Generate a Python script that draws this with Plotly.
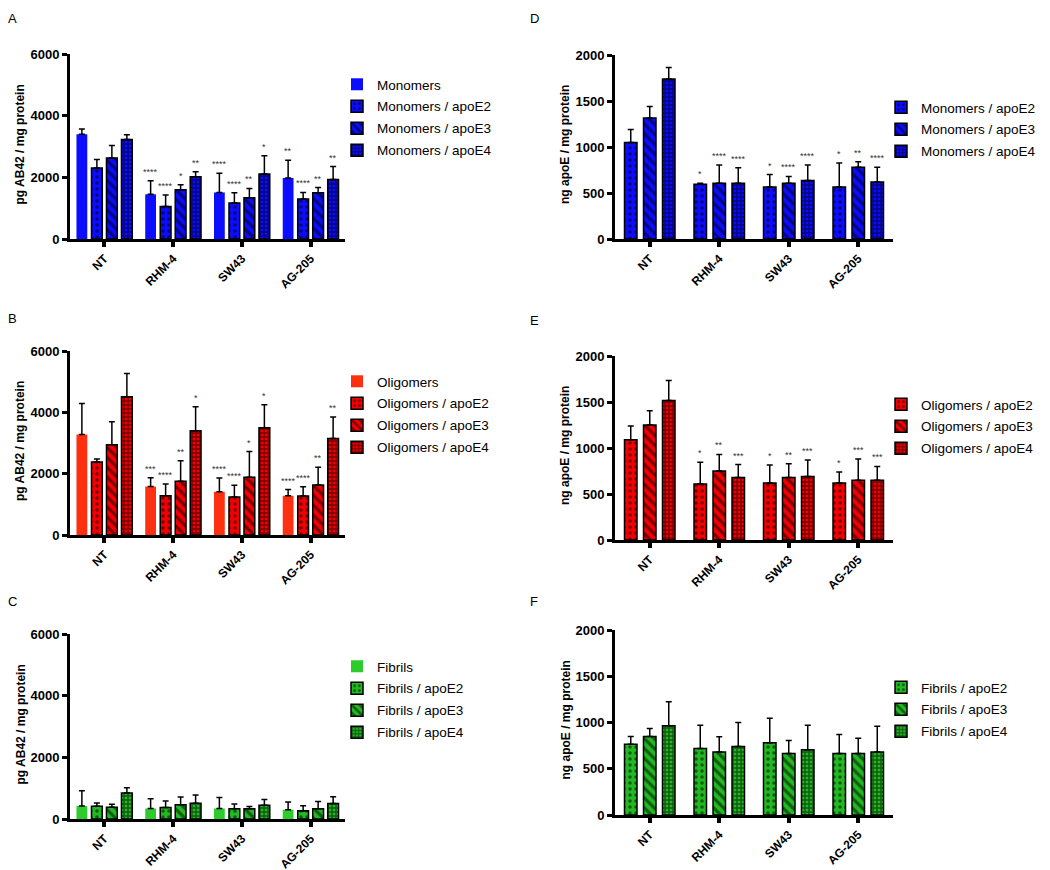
import plotly.graph_objects as go

categories = ["NT", "RHM-4", "SW43", "AG-205"]

# ---- Panel A: pg AB42 / mg protein (monomers) ----
a_names = ["Monomers", "Monomers / apoE2", "Monomers / apoE3", "Monomers / apoE4"]
a_mean = [[3400, 1450, 1510, 1980],
          [2300, 1050, 1170, 1300],
          [2630, 1600, 1340, 1500],
          [3230, 2020, 2110, 1930]]
a_err = [[170, 440, 620, 570],
         [280, 380, 330, 210],
         [400, 160, 300, 170],
         [150, 160, 590, 420]]
a_sig = [["", "****", "****", "**"],
         ["", "****", "****", "****"],
         ["", "*", "**", "**"],
         ["", "**", "*", "**"]]

# ---- Panel B: pg AB42 / mg protein (oligomers) ----
b_names = ["Oligomers", "Oligomers / apoE2", "Oligomers / apoE3", "Oligomers / apoE4"]
b_mean = [[3280, 1580, 1410, 1280],
          [2380, 1280, 1240, 1270],
          [2940, 1750, 1880, 1630],
          [4510, 3400, 3500, 3150]]
b_err = [[1010, 290, 450, 200],
         [100, 380, 380, 300],
         [750, 670, 840, 580],
         [760, 780, 750, 700]]
b_sig = [["", "***", "****", "****"],
         ["", "****", "****", "****"],
         ["", "**", "*", "**"],
         ["", "*", "*", "**"]]

# ---- Panel C: pg AB42 / mg protein (fibrils) ----
c_names = ["Fibrils", "Fibrils / apoE2", "Fibrils / apoE3", "Fibrils / apoE4"]
c_mean = [[420, 340, 340, 300],
          [410, 370, 335, 270],
          [380, 460, 335, 330],
          [840, 510, 450, 500]]
c_err = [[500, 320, 360, 250],
         [110, 210, 150, 160],
         [100, 250, 70, 240],
         [170, 270, 180, 220]]
c_sig = [["", "", "", ""], ["", "", "", ""], ["", "", "", ""], ["", "", "", ""]]

# ---- Panel D: ng apoE / mg protein (monomers) ----
d_names = ["Monomers / apoE2", "Monomers / apoE3", "Monomers / apoE4"]
d_mean = [[1050, 595, 565, 565],
          [1315, 605, 605, 780],
          [1740, 605, 635, 620]]
d_err = [[140, 10, 135, 260],
         [125, 200, 75, 60],
         [125, 170, 170, 160]]
d_sig = [["", "*", "*", "*"],
         ["", "****", "****", "**"],
         ["", "****", "****", "****"]]

# ---- Panel E: ng apoE / mg protein (oligomers) ----
e_names = ["Oligomers / apoE2", "Oligomers / apoE3", "Oligomers / apoE4"]
e_mean = [[1090, 610, 620, 620],
          [1250, 750, 680, 650],
          [1515, 680, 690, 650]]
e_err = [[150, 235, 195, 120],
         [155, 180, 150, 230],
         [220, 140, 180, 150]]
e_sig = [["", "*", "*", "*"],
         ["", "**", "**", "***"],
         ["", "***", "***", "***"]]

# ---- Panel F: ng apoE / mg protein (fibrils) ----
f_names = ["Fibrils / apoE2", "Fibrils / apoE3", "Fibrils / apoE4"]
f_mean = [[765, 720, 780, 665],
          [850, 680, 665, 665],
          [965, 740, 705, 680]]
f_err = [[85, 250, 265, 205],
         [85, 165, 140, 165],
         [260, 260, 265, 280]]
f_sig = [["", "", "", ""], ["", "", "", ""], ["", "", "", ""]]

ab_ticks = [0, 2000, 4000, 6000]
apoe_ticks = [0, 500, 1000, 1500, 2000]
ab_title = "pg AB42 / mg protein"
apoe_title = "ng apoE / mg protein"

W, H = 1050, 870
FONT = "Arial, Liberation Sans, sans-serif"

BLUE = "#0c0cff"
RED_PLAIN = "#ff3010"
RED = "#f50000"
GREEN_PLAIN = "#2ccc2c"
GREEN = "#22b922"

panels = [
    dict(letter="A", names=a_names, mean=a_mean, err=a_err, sig=a_sig, kinds=["plain", "e2", "e3", "e4"],
         plain=BLUE, col=BLUE, px=(70, 345), py=(54, 239), ticks=ab_ticks, title=ab_title,
         leg=(337, 69), letpos=(12, 18)),
    dict(letter="B", names=b_names, mean=b_mean, err=b_err, sig=b_sig, kinds=["plain", "e2", "e3", "e4"],
         plain=RED_PLAIN, col=RED, px=(70, 345), py=(351, 535), ticks=ab_ticks, title=ab_title,
         leg=(337, 366), letpos=(12, 318)),
    dict(letter="C", names=c_names, mean=c_mean, err=c_err, sig=c_sig, kinds=["plain", "e2", "e3", "e4"],
         plain=GREEN_PLAIN, col=GREEN, px=(70, 345), py=(634, 819), ticks=ab_ticks, title=ab_title,
         leg=(337, 651), letpos=(12, 601)),
    dict(letter="D", names=d_names, mean=d_mean, err=d_err, sig=d_sig, kinds=["e2", "e3", "e4"],
         plain=BLUE, col=BLUE, px=(615, 893), py=(55, 239), ticks=apoe_ticks, title=apoe_title,
         leg=(881, 92), letpos=(534, 18)),
    dict(letter="E", names=e_names, mean=e_mean, err=e_err, sig=e_sig, kinds=["e2", "e3", "e4"],
         plain=RED_PLAIN, col=RED, px=(615, 893), py=(356, 540), ticks=apoe_ticks, title=apoe_title,
         leg=(881, 389), letpos=(534, 320)),
    dict(letter="F", names=f_names, mean=f_mean, err=f_err, sig=f_sig, kinds=["e2", "e3", "e4"],
         plain=GREEN_PLAIN, col=GREEN, px=(615, 893), py=(630, 815), ticks=apoe_ticks, title=apoe_title,
         leg=(881, 672), letpos=(534, 601)),
]


def marker_for(kind, plain, col):
    if kind == "plain":
        return dict(color=plain, line=dict(color=plain, width=0))
    if kind == "e2":
        pat = dict(shape=".", fgcolor="#000000", bgcolor=col, size=6, solidity=0.28, fillmode="overlay")
    elif kind == "e3":
        pat = dict(shape="\\", fgcolor="#000000", bgcolor=col, size=7, solidity=0.45, fillmode="overlay")
    else:
        pat = dict(shape="+", fgcolor="#000000", bgcolor=col, size=4, solidity=0.6, fillmode="overlay")
    return dict(color=col, pattern=pat, line=dict(color="#000000", width=1.5))


fig = go.Figure()
layout = dict(width=W, height=H, margin=dict(l=0, r=0, t=0, b=0, pad=0, autoexpand=False),
              paper_bgcolor="white", plot_bgcolor="white", barmode="overlay", showlegend=True,
              font=dict(family=FONT, color="#000"))
annotations = []

for k, p in enumerate(panels):
    idx = k + 1
    xa = "x" if idx == 1 else f"x{idx}"
    ya = "y" if idx == 1 else f"y{idx}"
    lg = "legend" if idx == 1 else f"legend{idx}"
    n = len(p["names"])
    cat_px = (p["px"][1] - p["px"][0]) / 4.0
    slot = (15.0 if n == 4 else 19.0) / cat_px
    bw = (10.8 if n == 4 else 12.5) / cat_px
    for j in range(n):
        center = (j - (n - 1) / 2.0) * slot
        fig.add_trace(go.Bar(
            x=categories, y=p["mean"][j], name=p["names"][j],
            xaxis=xa, yaxis=ya, legend=lg, legendgroup=f"{p['letter']}{j}",
            width=bw, offset=center - bw / 2.0,
            marker=marker_for(p["kinds"][j], p["plain"], p["col"]),
            error_y=dict(type="data", array=p["err"][j], arrayminus=[0] * 4, symmetric=False,
                         color="#000", thickness=1.5, width=3),
            hoverinfo="skip",
        ))
        for i, s in enumerate(p["sig"][j]):
            if s:
                annotations.append(dict(
                    x=i + center, y=p["mean"][j][i] + p["err"][j][i], xref=xa, yref=ya,
                    text=s, showarrow=False, yanchor="bottom", yshift=2,
                    font=dict(size=9, color="#333", family=FONT)))
    x0, x1 = p["px"]
    y0, y1 = p["py"]
    layout["xaxis" if idx == 1 else f"xaxis{idx}"] = dict(
        domain=[x0 / W, x1 / W], anchor=ya, type="category", range=[-0.5, 3.5], automargin=False,
        showline=True, linecolor="#000", linewidth=3, ticks="outside", ticklen=5, tickwidth=3.5,
        tickcolor="#000", tickangle=-45, showgrid=False, zeroline=False,
        tickfont=dict(size=12, family=FONT, weight="bold", color="#000"))
    layout["yaxis" if idx == 1 else f"yaxis{idx}"] = dict(
        domain=[1 - y1 / H, 1 - y0 / H], anchor=xa, range=[0, p["ticks"][-1]], automargin=False,
        tickvals=p["ticks"], showline=True, linecolor="#000", linewidth=3, ticks="outside",
        ticklen=5, tickwidth=2.5, tickcolor="#000", showgrid=False, zeroline=False,
        tickfont=dict(size=13, family=FONT, weight="bold", color="#000"))
    layout[lg] = dict(x=p["leg"][0] / W, y=1 - p["leg"][1] / H, xanchor="left", yanchor="top",
                      bgcolor="rgba(0,0,0,0)", font=dict(size=13.5, family=FONT, color="#000"),
                      tracegroupgap=1.4, traceorder="grouped")
    annotations.append(dict(x=p["letpos"][0] / W, y=1 - p["letpos"][1] / H, xref="paper", yref="paper",
                            text=p["letter"], showarrow=False, xanchor="center", yanchor="middle",
                            font=dict(size=13, family=FONT, color="#000")))
    title_x = (x0 - 50) / W
    annotations.append(dict(x=title_x, y=1 - ((y0 + y1) / 2 - 2) / H, xref="paper", yref="paper",
                            text=p["title"], showarrow=False, textangle=-90, xanchor="center",
                            yanchor="middle",
                            font=dict(size=12, family=FONT, weight="bold", color="#000")))

layout["annotations"] = annotations
fig.update_layout(**layout)
fig.write_html("out.html", config={"displayModeBar": False},
               post_script="document.body.style.margin='0';")
